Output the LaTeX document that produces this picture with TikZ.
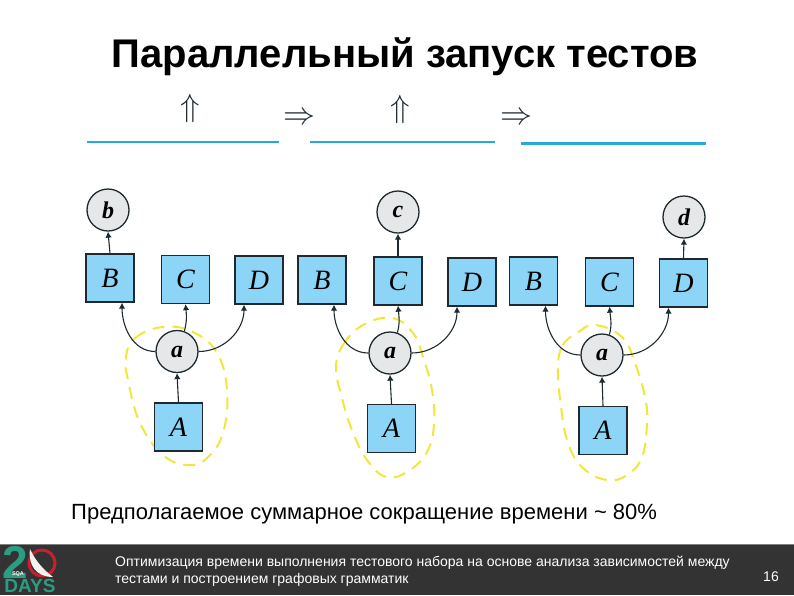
\documentclass[tikz,border=0pt]{standalone}
\usepackage{fontspec}
\setmainfont{Liberation Sans}
\newfontfamily\handfont{Liberation Serif}
\usetikzlibrary{arrows.meta}
\definecolor{boxblue}{HTML}{8DD5F6}
\definecolor{nodegray}{HTML}{E6E7E9}
\definecolor{inkdark}{HTML}{1E2A30}
\definecolor{linecyan}{HTML}{2BA9D6}
\definecolor{dashyellow}{HTML}{EDE83A}
\definecolor{footdark}{HTML}{333333}
\definecolor{logogreen}{HTML}{2A9D82}
\definecolor{logored}{HTML}{C8202C}
\tikzset{
    taskbox/.style={draw=inkdark, line width=1.3pt, fill=boxblue, minimum size=48pt, inner sep=0pt, font=\handfont\itshape\fontsize{28}{28}\selectfont},
    statenode/.style={circle, draw=inkdark, line width=1.3pt, fill=nodegray, minimum size=42pt, inner sep=0pt, font=\handfont\itshape\bfseries\fontsize{24}{24}\selectfont},
    edgearrow/.style={draw=inkdark, line width=1.1pt, -{Latex[length=6pt,width=6.5pt]}},
    bluerule/.style={draw=linecyan, line width=2.6pt},
    bigarrow/.style={inner sep=0pt, text=inkdark},
    groupmark/.style={draw=dashyellow, line width=2pt, dash pattern=on 12pt off 8pt}
}
\begin{document}
\begin{tikzpicture}[x=1pt, y=-1pt]
    \useasboundingbox (0,0) rectangle (794,595);
    \node[font=\bfseries\fontsize{40}{40}\selectfont] (title) at (405,57) {Параллельный запуск тестов};

    \node[bigarrow] (up1) at (190,108) {\scalebox{3.2}{$\Uparrow$}};
    \node[bigarrow] (right1) at (299,119) {\scalebox{3.2}{$\Rightarrow$}};
    \node[bigarrow] (up2) at (400,109) {\scalebox{3.2}{$\Uparrow$}};
    \node[bigarrow] (right2) at (516,119) {\scalebox{3.2}{$\Rightarrow$}};
    \coordinate (ruleAs) at (87,142);
    \coordinate (ruleAe) at (279,142);
    \coordinate (ruleBs) at (310,142);
    \coordinate (ruleBe) at (495,142);
    \coordinate (ruleCs) at (521,143.5);
    \coordinate (ruleCe) at (706,143.5);
    \draw[bluerule] (ruleAs) -- (ruleAe);
    \draw[bluerule] (ruleBs) -- (ruleBe);
    \draw[bluerule] (ruleCs) -- (ruleCe);

    \draw[groupmark] plot[smooth cycle, tension=0.7] coordinates {(126,357) (135,338) (163,327) (193,332) (217,353) (227,390) (223,433) (207,458) (188,465) (163,455) (140,423) (128,380)};
    \draw[groupmark] plot[smooth cycle, tension=0.7] coordinates {(336,368) (343,345) (363,325) (392,318) (413,333) (423,357) (432,390) (434,423) (428,450) (410,470) (387,477) (367,460) (352,430) (342,398)};
    \draw[groupmark] plot[smooth cycle, tension=0.7] coordinates {(558,367) (563,345) (577,333) (595,325) (622,337) (635,363) (645,397) (647,423) (642,457) (627,475) (607,480) (583,468) (568,443) (561,407)};

    \node[taskbox] (B1) at (110,278) {B};
    \node[taskbox] (C1) at (185.5,279.5) {C};
    \node[taskbox] (D1) at (259,280) {D};
    \node[statenode] (a1) at (177,351.5) {a};
    \node[taskbox] (A1) at (178.5,427) {A};
    \node[statenode] (b1) at (108,210) {b};
    \draw[edgearrow] (A1.north) -- (a1.south);
    \draw[edgearrow] (a1.west) to[out=180, in=-90] ([xshift=12pt]B1.south);
    \draw[edgearrow] (a1.70) to[out=75, in=-85] (C1.south);
    \draw[edgearrow] (a1.east) to[out=0, in=-90] ([xshift=-15pt]D1.south);
    \draw[edgearrow] (B1.north) -- (b1.south);

    \node[taskbox] (B2) at (322,280) {B};
    \node[taskbox] (C2) at (398,281) {C};
    \node[taskbox] (D2) at (472,282) {D};
    \node[statenode] (a2) at (390,353) {a};
    \node[taskbox] (A2) at (391.5,428.5) {A};
    \node[statenode] (c2) at (398,212) {c};
    \draw[edgearrow] (A2.north) -- (a2.south);
    \draw[edgearrow] (a2.west) to[out=180, in=-90] ([xshift=12pt]B2.south);
    \draw[edgearrow] (a2.70) to[out=75, in=-85] (C2.south);
    \draw[edgearrow] (a2.east) to[out=0, in=-90] ([xshift=-15pt]D2.south);
    \draw[edgearrow] (C2.north) -- (c2.south);

    \node[taskbox] (B3) at (533.5,281) {B};
    \node[taskbox] (C3) at (609.5,282) {C};
    \node[taskbox] (D3) at (683.5,283) {D};
    \node[statenode] (a3) at (602,355) {a};
    \node[taskbox] (A3) at (603,430.5) {A};
    \node[statenode] (d3) at (684,217) {d};
    \draw[edgearrow] (A3.north) -- (a3.south);
    \draw[edgearrow] (a3.west) to[out=180, in=-90] ([xshift=12pt]B3.south);
    \draw[edgearrow] (a3.70) to[out=75, in=-85] (C3.south);
    \draw[edgearrow] (a3.east) to[out=0, in=-90] ([xshift=-15pt]D3.south);
    \draw[edgearrow] (D3.north) -- (d3.south);

    \node[anchor=west, inner sep=0pt, font=\fontsize{22}{22}\selectfont] (summary) at (71,514) {Предполагаемое суммарное сокращение времени \~{} 80\%};

    \fill[footdark] (0,544) rectangle (794,595);
    \draw[gray, line width=0.8pt] (0,544) -- (794,544);
    \node[anchor=north west, inner sep=0pt, text=white, align=left, font=\fontsize{14}{16.5}\selectfont] (footer) at (115,556) {Оптимизация времени выполнения тестового набора на основе анализа зависимостей между\\тестами и построением графовых грамматик};
    \node[text=white, inner sep=0pt, font=\fontsize{14}{14}\selectfont] (pagenum) at (771,577) {16};

    \node[text=logogreen, inner sep=0pt, font=\bfseries\fontsize{46}{46}\selectfont] (logotwo) at (15,562) {2};
    \node[circle, draw=logored, line width=3pt, minimum size=26pt, inner sep=0pt] (logoring) at (42,563) {};
    \fill[white!90!gray] (30,549) .. controls (28,565) and (36,577) .. (53,577) .. controls (44,570) and (36,562) .. (30,549);
    \node[text=white, inner sep=0pt, font=\bfseries\fontsize{5.5}{5.5}\selectfont] (logosqa) at (18,574.5) {SQA};
    \node[text=logogreen, inner sep=0pt, font=\bfseries\fontsize{19}{19}\selectfont] (logodays) at (30,586) {DAYS};
\end{tikzpicture}
\end{document}
